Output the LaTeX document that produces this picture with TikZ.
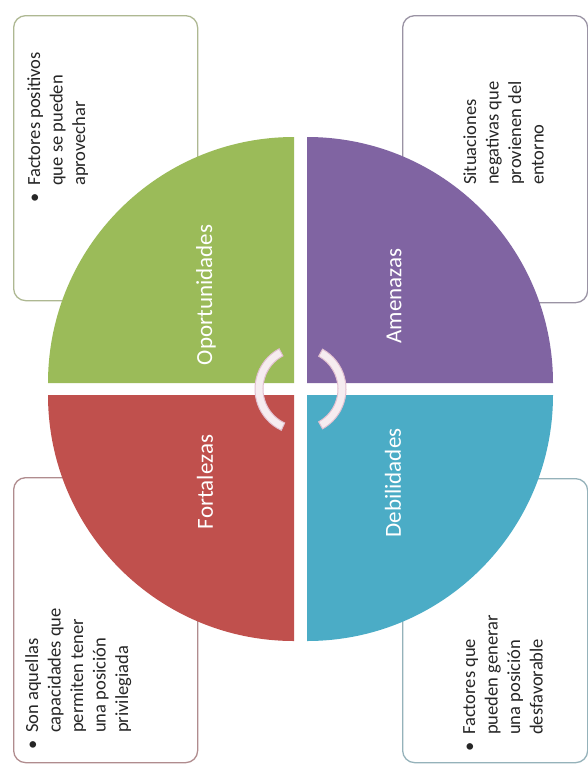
\documentclass[tikz,border=0pt]{standalone}
\usepackage{fontspec}
\setmainfont{Carlito}
\definecolor{qgreen}{HTML}{9BBB59}
\definecolor{qpurple}{HTML}{8064A2}
\definecolor{qred}{HTML}{C0504D}
\definecolor{qblue}{HTML}{4BACC6}
\definecolor{bgreen}{HTML}{AEB892}
\definecolor{bpurple}{HTML}{9A93A4}
\definecolor{bred}{HTML}{B08C8E}
\definecolor{bblue}{HTML}{95B2BA}
\definecolor{ringfill}{HTML}{F6ECF0}
\definecolor{ringedge}{HTML}{E2C0D0}
\begin{document}
\begin{tikzpicture}[x=1pt,y=-1pt,
  box/.style={draw=#1, line width=1.3pt, rounded corners=12pt, fill=white, inner sep=0, anchor=north west},
  lbl/.style={text=white, font=\fontsize{23}{27}\selectfont, rotate=90, inner sep=0},
  txt/.style={text=black!85, font=\fontsize{18.5}{22.5}\selectfont, rotate=90, anchor=base west, inner sep=0},
  ring/.style={fill=ringfill, draw=ringedge, line width=1pt}
]
\useasboundingbox[fill=white] (0,0) rectangle (588,782);

% text boxes
\node[box=bgreen, minimum width=184pt, minimum height=285pt] (tlbox) at (13,15) {};
\node[box=bpurple, minimum width=185pt, minimum height=287pt] (trbox) at (402,15) {};
\node[box=bred, minimum width=184pt, minimum height=285pt] (blbox) at (13,477) {};
\node[box=bblue, minimum width=185pt, minimum height=284pt] (brbox) at (402,478) {};

% quadrants
\fill[qgreen] (294,383) -- (48,383) arc[start angle=180, end angle=270, radius=246] -- cycle;
\fill[qpurple] (307,383) -- (307,137) arc[start angle=270, end angle=360, radius=246] -- cycle;
\fill[qblue] (307,395) -- (553,395) arc[start angle=0, end angle=90, radius=246] -- cycle;
\fill[qred] (294,395) -- (294,641) arc[start angle=90, end angle=180, radius=246] -- cycle;

% central arcs
\path[ring, shift={(300.5,389)}] (115:45.5) arc[start angle=115, end angle=242, radius=45.5]
  -- (242:37.5) arc[start angle=242, end angle=115, radius=37.5] -- cycle;
\path[ring, shift={(300.5,389)}] (-61:45.5) arc[start angle=-61, end angle=61, radius=45.5]
  -- (61:37.5) arc[start angle=61, end angle=-61, radius=37.5] -- cycle;

% quadrant labels
\node[lbl] (lop) at (206,295) {Oportunidades};
\node[lbl] (lam) at (394,296) {Amenazas};
\node[lbl] (lfo) at (205,482) {Fortalezas};
\node[lbl] (lde) at (393,483) {Debilidades};

% box texts
\node[txt] (tltext) at (40,203) {\begin{tabular}[t]{@{}l@{}l@{}}\makebox[17pt][l]{•}&Factores positivos\\ &que se pueden\\ &aprovechar\end{tabular}};
\node[txt] (trtext) at (476,185) {\begin{tabular}[t]{@{}l@{}}Situaciones\\negativas que\\provienen del\\entorno\end{tabular}};
\node[txt] (bltext) at (38,750) {\begin{tabular}[t]{@{}l@{}l@{}}\makebox[17pt][l]{•}&Son aquellas\\ &capacidades que\\ &permiten tener\\ &una posición\\ &privilegiada\end{tabular}};
\node[txt] (brtext) at (475,752) {\begin{tabular}[t]{@{}l@{}l@{}}\makebox[17pt][l]{•}&Factores que\\ &pueden generar\\ &una posición\\ &desfavorable\end{tabular}};
\end{tikzpicture}
\end{document}
